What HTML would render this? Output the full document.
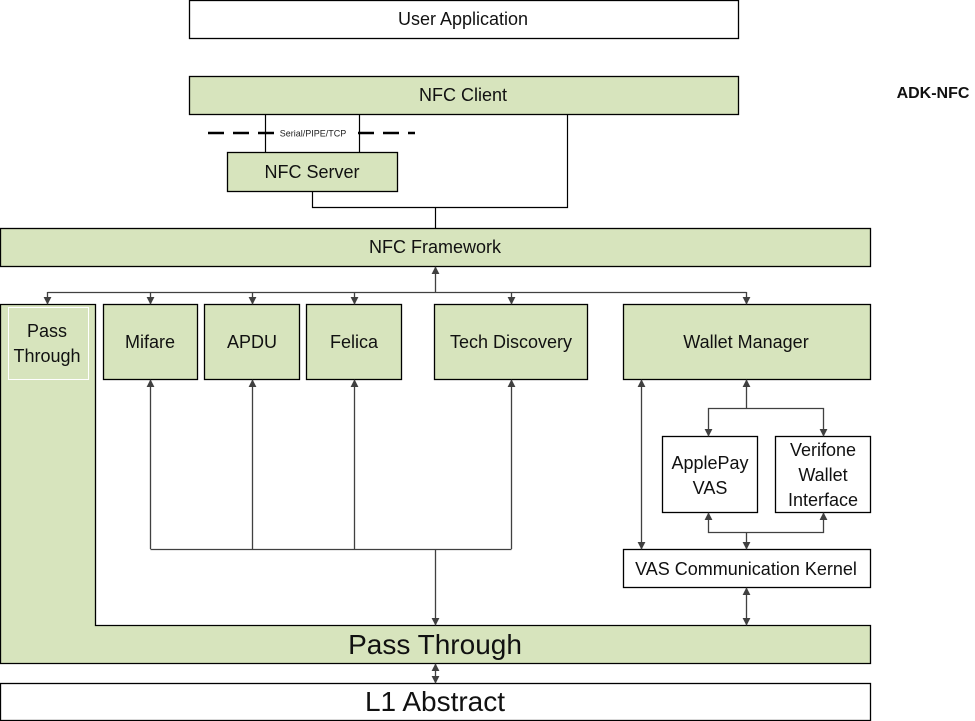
<!DOCTYPE html>
<html><head><meta charset="utf-8"><style>
html,body{margin:0;padding:0;background:#fff;}
svg{display:block;font-family:"Liberation Sans",sans-serif;}
</style></head><body>
<svg width="975" height="721" viewBox="0 0 975 721" xmlns="http://www.w3.org/2000/svg">
<defs>
<marker id="a" viewBox="0 0 10 10" refX="9" refY="5" markerWidth="8" markerHeight="8" orient="auto-start-reverse" markerUnits="userSpaceOnUse"><path d="M0,0 L10,5 L0,10 z" fill="#404040"/></marker>
</defs>
<g stroke="#000" stroke-width="1.3">
<rect x="189.5" y="0.5" width="549" height="38" fill="#fff"/>
<rect x="189.5" y="76.5" width="549" height="38" fill="#d7e4bd"/>
<rect x="227.5" y="152.5" width="170" height="39" fill="#d7e4bd"/>
<rect x="0.5" y="228.5" width="870" height="38" fill="#d7e4bd"/>
<path d="M0.5,304.5 H95.5 V625.5 H870.5 V663.5 H0.5 Z" fill="#d7e4bd"/>
<rect x="103.5" y="304.5" width="94" height="75" fill="#d7e4bd"/>
<rect x="204.5" y="304.5" width="95" height="75" fill="#d7e4bd"/>
<rect x="306.5" y="304.5" width="95" height="75" fill="#d7e4bd"/>
<rect x="434.5" y="304.5" width="153" height="75" fill="#d7e4bd"/>
<rect x="623.5" y="304.5" width="247" height="75" fill="#d7e4bd"/>
<rect x="662.5" y="436.5" width="95" height="76" fill="#fff"/>
<rect x="775.5" y="436.5" width="95" height="76" fill="#fff"/>
<rect x="623.5" y="549.5" width="247" height="38" fill="#fff"/>
<rect x="0.5" y="683.5" width="870" height="37" fill="#fff"/>
</g>
<rect x="8.5" y="307.5" width="80" height="72" fill="none" stroke="#fff" stroke-width="1"/>
<g stroke="#000" stroke-width="1.2" fill="none">
<path d="M265.5,114 V152 M359.5,114 V152"/>
<path d="M312.5,191 V207.5 H567.5 V114 M435.5,207.5 V228"/>
</g>
<line x1="208" y1="133" x2="415" y2="133" stroke="#000" stroke-width="2.5" stroke-dasharray="16,9"/>
<rect x="274" y="127" width="80" height="12" fill="#fff"/>
<text x="313" y="136.5" font-size="9" text-anchor="middle" fill="#222">Serial/PIPE/TCP</text>
<g stroke="#404040" stroke-width="1.3" fill="none">
<path d="M435.5,292 V267" marker-end="url(#a)"/>
<path d="M47.5,292.5 H746.5"/>
<path d="M47.5,292 V304" marker-end="url(#a)"/>
<path d="M150.5,292 V304" marker-end="url(#a)"/>
<path d="M252.5,292 V304" marker-end="url(#a)"/>
<path d="M354.5,292 V304" marker-end="url(#a)"/>
<path d="M511.5,292 V304" marker-end="url(#a)"/>
<path d="M746.5,292 V304" marker-end="url(#a)"/>
<path d="M150.5,549.5 H511.5"/>
<path d="M150.5,549 V380" marker-end="url(#a)"/>
<path d="M252.5,549 V380" marker-end="url(#a)"/>
<path d="M354.5,549 V380" marker-end="url(#a)"/>
<path d="M511.5,549 V380" marker-end="url(#a)"/>
<path d="M435.5,549 V625" marker-end="url(#a)"/>
<path d="M641.5,380 V549" marker-start="url(#a)" marker-end="url(#a)"/>
<path d="M746.5,408 V380" marker-end="url(#a)"/>
<path d="M708.5,436 V408.5 H823.5 V436" marker-start="url(#a)" marker-end="url(#a)"/>
<path d="M708.5,513 V532.5 H823.5 V513" marker-start="url(#a)" marker-end="url(#a)"/>
<path d="M746.5,532 V549" marker-end="url(#a)"/>
<path d="M746.5,588 V625" marker-start="url(#a)" marker-end="url(#a)"/>
<path d="M435.5,664 V683" marker-start="url(#a)" marker-end="url(#a)"/>
</g>
<g font-size="18" fill="#111" text-anchor="middle">
<text x="463" y="25">User Application</text>
<text x="463" y="101">NFC Client</text>
<text x="312" y="178">NFC Server</text>
<text x="435" y="253">NFC Framework</text>
<text x="47" y="337">Pass</text>
<text x="47" y="362">Through</text>
<text x="150" y="348">Mifare</text>
<text x="252" y="348">APDU</text>
<text x="354" y="348">Felica</text>
<text x="511" y="348">Tech Discovery</text>
<text x="746" y="348">Wallet Manager</text>
<text x="710" y="469">ApplePay</text>
<text x="710" y="494">VAS</text>
<text x="823" y="456">Verifone</text>
<text x="823" y="481">Wallet</text>
<text x="823" y="506">Interface</text>
<text x="746" y="575">VAS Communication Kernel</text>
<text x="435" y="654" font-size="28">Pass Through</text>
<text x="435" y="711" font-size="28">L1 Abstract</text>
</g>
<text x="933" y="98" font-size="16" font-weight="bold" text-anchor="middle" fill="#111">ADK-NFC</text>
</svg>
</body></html>
